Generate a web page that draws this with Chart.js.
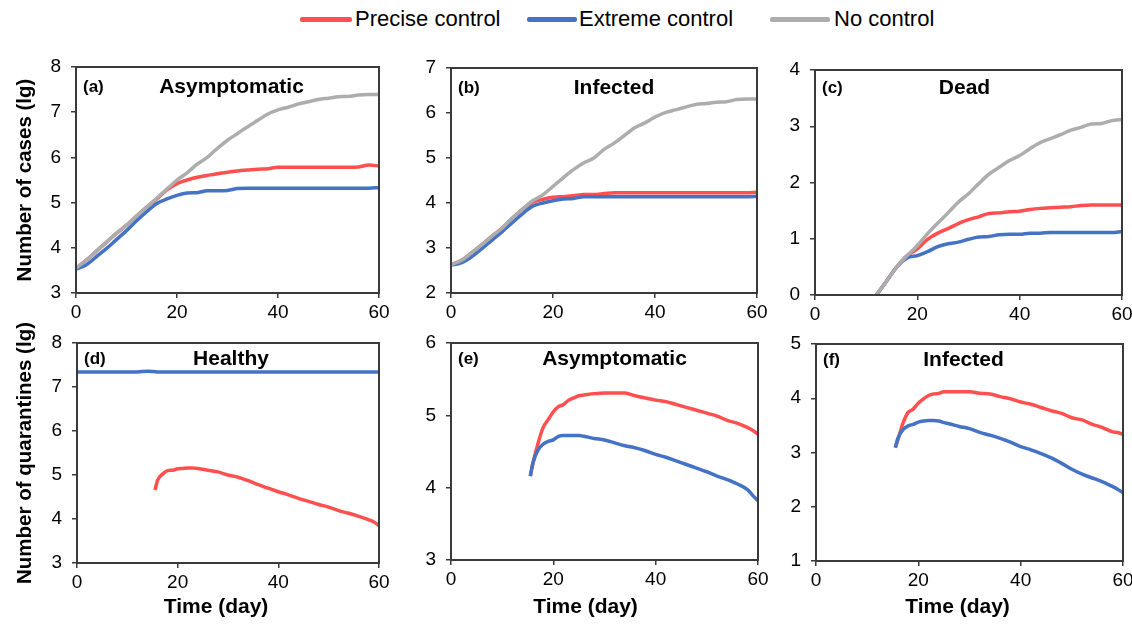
<!doctype html>
<html>

<head>
	<title>Control scenarios</title>
	<script src="https://cdn.jsdelivr.net/npm/chart.js@4/dist/chart.umd.min.js"></script>
	<style>
	body {
		margin: 0;
		background: #fff;
		font-family: "Liberation Sans", Arial, sans-serif;
	}
	.stage {
		position: relative;
		width: 1132px;
		height: 624px;
		overflow: hidden;
	}
	.stage canvas {
		position: absolute;
	}
	.legend-line {
		position: absolute;
		height: 5px;
		border-radius: 2px;
	}
	.legend-text {
		position: absolute;
		top: 6px;
		font-size: 22px;
		line-height: 26px;
		color: #000;
	}
	</style>
</head>

<body>
	<div class="stage" id="stage">
		<div class="legend-line" style="left:300px;top:17px;width:52px;background:#ff4f4f"></div>
		<div class="legend-text" style="left:355px">Precise control</div>
		<div class="legend-line" style="left:527px;top:17px;width:50px;background:#4472c4"></div>
		<div class="legend-text" style="left:579px">Extreme control</div>
		<div class="legend-line" style="left:770px;top:17px;width:60px;background:#adadad"></div>
		<div class="legend-text" style="left:834px">No control</div>
	</div>
	<script>
		// days
		var dayTop = [0, 2, 4, 6, 8, 10, 12, 14, 16, 18, 20, 22, 24, 26, 28, 30, 32, 34, 36, 38, 40, 42, 44, 46, 48, 50, 52, 54, 56, 58, 60];
		var dayDead = [12, 14, 16, 18, 20, 22, 24, 26, 28, 30, 32, 34, 36, 38, 40, 42, 44, 46, 48, 50, 52, 54, 56, 58, 60];
		var dayQuar = [15.5, 16, 17, 18, 19, 20, 21, 22, 23, 24, 25, 26, 28, 30, 32, 34, 36, 38, 40, 42, 44, 46, 48, 50, 52, 54, 56, 58, 59, 60];

		// (a) asymptomatic cases, lg
		var asymPrecise = [3.55, 3.72, 3.92, 4.12, 4.32, 4.5, 4.7, 4.9, 5.08, 5.28, 5.42, 5.5, 5.56, 5.6, 5.64, 5.67, 5.7, 5.72, 5.74, 5.75, 5.78, 5.78, 5.78, 5.78, 5.78, 5.78, 5.78, 5.78, 5.79, 5.83, 5.81];
		var asymExtreme = [3.53, 3.62, 3.8, 3.98, 4.18, 4.38, 4.6, 4.8, 4.98, 5.08, 5.16, 5.21, 5.22, 5.26, 5.26, 5.27, 5.31, 5.32, 5.32, 5.32, 5.32, 5.32, 5.32, 5.32, 5.32, 5.32, 5.32, 5.32, 5.32, 5.32, 5.33];
		var asymNone = [3.55, 3.72, 3.92, 4.12, 4.32, 4.5, 4.7, 4.9, 5.1, 5.3, 5.5, 5.66, 5.85, 6.0, 6.2, 6.38, 6.53, 6.68, 6.82, 6.96, 7.05, 7.11, 7.18, 7.23, 7.28, 7.31, 7.34, 7.35, 7.38, 7.39, 7.39];

		// (b) infected cases, lg
		var infPrecise = [2.63, 2.72, 2.89, 3.07, 3.26, 3.44, 3.66, 3.86, 4.02, 4.08, 4.13, 4.14, 4.16, 4.19, 4.19, 4.21, 4.23, 4.23, 4.23, 4.23, 4.23, 4.23, 4.23, 4.23, 4.23, 4.23, 4.23, 4.23, 4.23, 4.23, 4.24];
		var infExtreme = [2.62, 2.67, 2.8, 2.98, 3.17, 3.36, 3.56, 3.76, 3.93, 4.0, 4.05, 4.09, 4.1, 4.14, 4.14, 4.14, 4.14, 4.14, 4.14, 4.14, 4.14, 4.14, 4.14, 4.14, 4.14, 4.14, 4.14, 4.14, 4.14, 4.14, 4.15];
		var infNone = [2.63, 2.72, 2.89, 3.07, 3.26, 3.44, 3.66, 3.86, 4.05, 4.18, 4.37, 4.56, 4.74, 4.89, 5.0, 5.19, 5.33, 5.5, 5.67, 5.78, 5.91, 6.01, 6.07, 6.13, 6.19, 6.21, 6.24, 6.25, 6.3, 6.31, 6.31];

		// (c) dead, lg
		var deadPrecise = [0, 0.25, 0.5, 0.7, 0.82, 0.99, 1.1, 1.18, 1.27, 1.34, 1.39, 1.45, 1.46, 1.48, 1.49, 1.52, 1.54, 1.55, 1.56, 1.57, 1.59, 1.6, 1.6, 1.6, 1.6];
		var deadExtreme = [0, 0.25, 0.5, 0.66, 0.7, 0.77, 0.86, 0.91, 0.94, 0.99, 1.03, 1.04, 1.07, 1.08, 1.08, 1.1, 1.1, 1.11, 1.11, 1.11, 1.11, 1.11, 1.11, 1.11, 1.13];
		var deadNone = [0, 0.25, 0.5, 0.7, 0.88, 1.09, 1.28, 1.46, 1.65, 1.8, 1.98, 2.15, 2.27, 2.39, 2.48, 2.6, 2.71, 2.78, 2.85, 2.93, 2.98, 3.04, 3.05, 3.1, 3.12];

		// (d) healthy quarantined, lg
		var healthyPrecise = [4.66, 4.88, 5.02, 5.1, 5.11, 5.14, 5.15, 5.16, 5.16, 5.15, 5.13, 5.11, 5.07, 5.0, 4.95, 4.87, 4.78, 4.7, 4.62, 4.55, 4.47, 4.4, 4.33, 4.27, 4.19, 4.13, 4.06, 3.98, 3.93, 3.85];
		var healthyExtreme = [7.34, 7.34, 7.34, 7.34, 7.34, 7.34, 7.34, 7.36, 7.34, 7.34, 7.34, 7.34, 7.34, 7.34, 7.34, 7.34, 7.34, 7.34, 7.34, 7.34, 7.34, 7.34, 7.34, 7.34, 7.34, 7.34, 7.34, 7.34, 7.34, 7.34, 7.34];

		// (e) asymptomatic quarantined, lg
		var qAsymPrecise = [4.16, 4.33, 4.61, 4.83, 4.94, 5.05, 5.12, 5.15, 5.21, 5.24, 5.27, 5.28, 5.3, 5.31, 5.31, 5.31, 5.27, 5.24, 5.21, 5.19, 5.15, 5.11, 5.07, 5.03, 4.99, 4.93, 4.89, 4.83, 4.79, 4.74];
		var qAsymExtreme = [4.16, 4.34, 4.52, 4.6, 4.64, 4.66, 4.71, 4.72, 4.72, 4.72, 4.72, 4.71, 4.68, 4.66, 4.62, 4.58, 4.55, 4.51, 4.46, 4.42, 4.37, 4.32, 4.27, 4.22, 4.16, 4.11, 4.05, 3.97, 3.89, 3.82];

		// (f) infected quarantined, lg
		var qInfPrecise = [3.09, 3.23, 3.54, 3.74, 3.8, 3.91, 3.99, 4.05, 4.08, 4.09, 4.12, 4.12, 4.12, 4.12, 4.09, 4.08, 4.03, 3.99, 3.93, 3.89, 3.83, 3.77, 3.72, 3.64, 3.6, 3.52, 3.46, 3.38, 3.37, 3.33];
		var qInfExtreme = [3.09, 3.26, 3.42, 3.49, 3.52, 3.56, 3.58, 3.59, 3.59, 3.58, 3.55, 3.53, 3.48, 3.44, 3.37, 3.32, 3.26, 3.19, 3.11, 3.05, 2.98, 2.9, 2.8, 2.69, 2.6, 2.53, 2.46, 2.37, 2.32, 2.26];

		var RED = '#ff4f4f';
		var BLUE = '#4472c4';
		var GREY = '#adadad';
		var FRAME = '#3a3a3a';
		var FONT = '"Liberation Sans", Arial, sans-serif';

		Chart.defaults.font.family = FONT;
		Chart.defaults.color = '#000';

		function pts(xs, ys) {
			return ys.map(function(y, i) {
				return {x: xs[i], y: y};
			});
		}

		function line(color, xs, ys) {
			return {
				data: pts(xs, ys),
				borderColor: color,
				borderWidth: 3.5,
				pointRadius: 0,
				cubicInterpolationMode: 'monotone',
				fill: false
			};
		}

		// frame, panel tag, panel title, x axis title
		var panelText = {
			id: 'panelText',
			afterDraw: function(chart, args, opts) {
				var ctx = chart.ctx;
				var a = chart.chartArea;
				ctx.save();
				ctx.strokeStyle = FRAME;
				ctx.lineWidth = 2;
				ctx.strokeRect(a.left, a.top, a.right - a.left, a.bottom - a.top);
				ctx.fillStyle = '#000';
				ctx.textBaseline = 'middle';
				ctx.textAlign = 'left';
				ctx.font = 'bold 17px ' + FONT;
				ctx.fillText(opts.tag, a.left + 7, a.top + opts.ty);
				ctx.textAlign = 'center';
				ctx.font = 'bold 21px ' + FONT;
				ctx.fillText(opts.title, (a.left + a.right) / 2 + opts.dx, a.top + opts.ty);
				if (opts.xTitle) {
					ctx.font = 'bold 21px ' + FONT;
					ctx.fillText(opts.xTitle, (a.left + a.right) / 2 + opts.xdx, 607 - chart.canvas.offsetTop);
				}
				ctx.restore();
			}
		};

		var panels = [
			{tag: '(a)', title: 'Asymptomatic', dx: 4, ty: 20, row: 0, col: 0, box: [76, 67, 379, 293], min: 3, max: 8,
				yTitle: 'Number of cases (lg)',
				sets: [line(GREY, dayTop, asymNone), line(BLUE, dayTop, asymExtreme), line(RED, dayTop, asymPrecise)]},
			{tag: '(b)', title: 'Infected', dx: 10, ty: 20, row: 0, col: 1, box: [451, 68, 757, 293], min: 2, max: 7,
				sets: [line(GREY, dayTop, infNone), line(BLUE, dayTop, infExtreme), line(RED, dayTop, infPrecise)]},
			{tag: '(c)', title: 'Dead', dx: -4, ty: 18, row: 0, col: 2, box: [815, 70, 1122, 295], min: 0, max: 4,
				sets: [line(GREY, dayDead, deadNone), line(BLUE, dayDead, deadExtreme), line(RED, dayDead, deadPrecise)]},
			{tag: '(d)', title: 'Healthy', dx: 3, ty: 16, row: 1, col: 0, box: [77, 343, 379, 563], min: 3, max: 8,
				yTitle: 'Number of quarantines (lg)', xdx: -12,
				sets: [line(BLUE, dayTop, healthyExtreme), line(RED, dayQuar, healthyPrecise)]},
			{tag: '(e)', title: 'Asymptomatic', dx: 10, ty: 16, row: 1, col: 1, box: [451, 343, 758, 560], min: 3, max: 6,
				xdx: -19,
				sets: [line(BLUE, dayQuar, qAsymExtreme), line(RED, dayQuar, qAsymPrecise)]},
			{tag: '(f)', title: 'Infected', dx: -6, ty: 16, row: 1, col: 2, box: [816, 344, 1123, 561], min: 1, max: 5,
				xdx: -12,
				sets: [line(BLUE, dayQuar, qInfExtreme), line(RED, dayQuar, qInfPrecise)]}
		];

		window.onload = function() {
			var stage = document.getElementById('stage');

			panels.forEach(function(p) {
				var left = p.box[0], top = p.box[1], right = p.box[2], bottom = p.box[3];
				var yW = p.col === 0 ? left : 50;
				// room above the plot for the top tick label and the long y title
				var padTop = p.col === 0 ? 34 : 24;
				var padRight = 14;
				var xH = p.row === 0 ? 30 : 624 - bottom;

				var canvas = document.createElement('canvas');
				canvas.width = yW + (right - left) + padRight;
				canvas.height = padTop + (bottom - top) + xH;
				canvas.style.left = (left - yW) + 'px';
				canvas.style.top = (top - padTop) + 'px';
				stage.appendChild(canvas);

				new Chart(canvas.getContext('2d'), {
					type: 'line',
					data: {datasets: p.sets},
					plugins: [panelText],
					options: {
						responsive: false,
						animation: false,
						devicePixelRatio: 1,
						layout: {padding: {left: 0, top: padTop, right: padRight, bottom: 0}},
						plugins: {
							legend: {display: false},
							tooltip: {enabled: false},
							panelText: {tag: p.tag, title: p.title, dx: p.dx, ty: p.ty,
								xTitle: p.row === 1 ? 'Time (day)' : null, xdx: p.xdx || 0}
						},
						scales: {
							x: {
								type: 'linear',
								min: 0,
								max: 60,
								border: {display: false},
								grid: {drawOnChartArea: false, tickLength: 5, color: FRAME, lineWidth: 1.5},
								ticks: {stepSize: 20, padding: 3, font: {size: 19}, maxRotation: 0},
								afterFit: function(s) { s.height = xH; }
							},
							y: {
								min: p.min,
								max: p.max,
								border: {display: false},
								grid: {drawOnChartArea: false, tickLength: 5, color: FRAME, lineWidth: 1.5},
								ticks: {stepSize: 1, padding: 10, font: {size: 19}},
								title: {
									display: !!p.yTitle,
									text: p.yTitle || '',
									font: {size: 20.5, weight: 'bold'},
									padding: {top: 13, bottom: 0}
								},
								afterFit: function(s) { s.width = yW; }
							}
						}
					}
				});
			});
		};
	</script>
</body>

</html>
